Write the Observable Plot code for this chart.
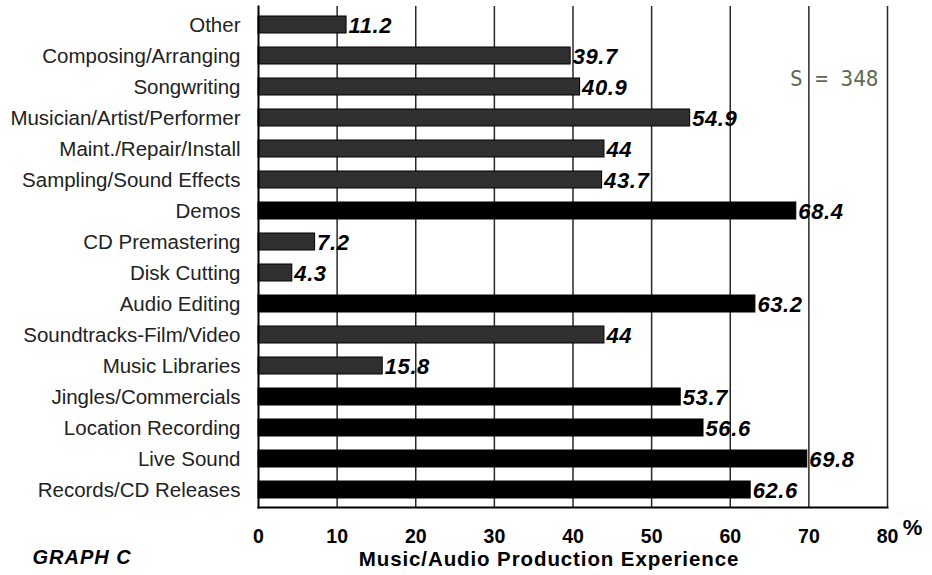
<!DOCTYPE html>
<html>
<head>
<meta charset="utf-8">
<script src="https://cdn.jsdelivr.net/npm/d3@7"></script>
<script src="https://cdn.jsdelivr.net/npm/@observablehq/plot@0.6"></script>
<style>
  html, body { margin: 0; padding: 0; background: #fff; }
  #chart { width: 932px; height: 575px; }
  svg { font-family: "Liberation Sans", Arial, Helvetica, sans-serif; }
</style>
</head>
<body>
<div id="chart"></div>
<script>
const categories = [
  "Other",
  "Composing/Arranging",
  "Songwriting",
  "Musician/Artist/Performer",
  "Maint./Repair/Install",
  "Sampling/Sound Effects",
  "Demos",
  "CD Premastering",
  "Disk Cutting",
  "Audio Editing",
  "Soundtracks-Film/Video",
  "Music Libraries",
  "Jingles/Commercials",
  "Location Recording",
  "Live Sound",
  "Records/CD Releases"
];
const values = [11.2, 39.7, 40.9, 54.9, 44, 43.7, 68.4, 7.2, 4.3, 63.2, 44, 15.8, 53.7, 56.6, 69.8, 62.6];
const groups = ["shaded", "shaded", "shaded", "shaded", "shaded", "shaded", "solid", "shaded", "shaded", "solid", "shaded", "shaded", "solid", "solid", "solid", "solid"];
const xTicks = [0, 10, 20, 30, 40, 50, 60, 70, 80];
const xTitle = "Music/Audio Production Experience";
const graphLabel = "GRAPH C";
const sampleNote = "S = 348";

const data = categories.map((c, i) => ({category: c, value: values[i], group: groups[i]}));

const chart = Plot.plot({
  width: 932,
  height: 575,
  marginLeft: 258,
  marginRight: 45,
  marginTop: 6,
  marginBottom: 68,
  style: {fontFamily: '"Liberation Sans", Arial, sans-serif', background: "#fff"},
  x: {domain: [0, 80], ticks: xTicks, label: null},
  y: {domain: categories, paddingInner: 0.46, paddingOuter: 0.24, label: null},
  color: {domain: ["shaded", "solid"], range: ["#303030", "#000000"]},
  marks: [
    Plot.ruleX(xTicks.slice(1), {stroke: "#2a2a2a", strokeWidth: 1.5}),
    Plot.barX(data, {y: "category", x: "value", fill: "group", stroke: "#000", strokeWidth: 1}),
    Plot.text(data, {
      y: "category", x: "value", text: d => String(d.value),
      textAnchor: "start", dx: 2, dy: 1,
      fontSize: 22, fontWeight: "bold", fontStyle: "italic", fill: "#000"
    }),
    Plot.frame({anchor: "left", stroke: "#000", strokeWidth: 2}),
    Plot.frame({anchor: "bottom", stroke: "#000", strokeWidth: 2}),
    Plot.axisY({tickSize: 0, tickPadding: 18, fontSize: 20.5, fill: "#222", label: null}),
    Plot.axisX({ticks: xTicks, tickSize: 0, tickPadding: 22, fontSize: 19.5, fontWeight: "bold", fill: "#000", label: null}),
    Plot.text(["%"], {frameAnchor: "bottom-right", dx: 25, dy: 27, fontSize: 22, fontWeight: "bold", fill: "#000", textAnchor: "middle"}),
    Plot.text([xTitle], {frameAnchor: "bottom", dy: 58, fontSize: 20.5, fontWeight: "bold", fill: "#000", dx: -24}),
    Plot.text([graphLabel], {frameAnchor: "bottom-left", dx: -226, dy: 56, textAnchor: "start", fontSize: 20, fontWeight: "bold", fontStyle: "italic", fill: "#000"}),
    Plot.text([sampleNote], {frameAnchor: "top-right", dx: -9, dy: 65, textAnchor: "end", fontSize: 21, fontFamily: '"DejaVu Sans Mono", "Liberation Mono", monospace', fill: "#5e6b52"})
  ]
});
const svg = d3.select(chart);
svg.selectAll("text").each(function() {
  const t = this.textContent;
  if (t === xTitle) d3.select(this).style("letter-spacing", "0.9px");
  if (t === graphLabel) d3.select(this).style("letter-spacing", "1px");
  if (values.map(String).includes(t)) d3.select(this).style("letter-spacing", "0.6px");
});
document.getElementById("chart").appendChild(chart);
</script>
</body>
</html>
